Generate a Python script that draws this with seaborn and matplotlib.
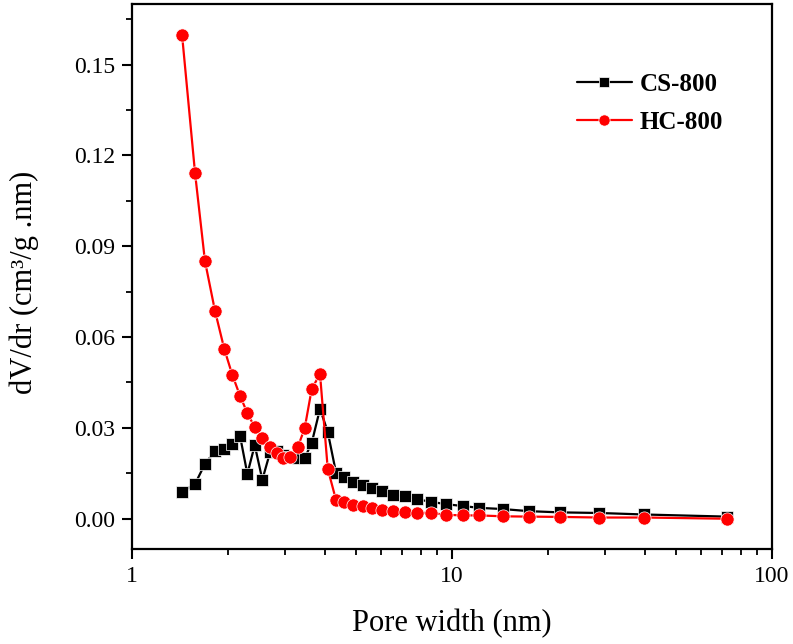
import numpy as np
import pandas as pd
import matplotlib
matplotlib.use("Agg")
import matplotlib.pyplot as plt
import seaborn as sns
from matplotlib.ticker import MultipleLocator, FormatStrFormatter, FixedLocator, FixedFormatter, LogLocator, NullFormatter

# pore width (nm), shared by both samples
pore_width = [1.433, 1.574, 1.69, 1.817, 1.943, 2.058, 2.175, 2.293, 2.418, 2.554,
              2.70, 2.833, 2.958, 3.117, 3.295, 3.464, 3.645, 3.868, 4.089, 4.340,
              4.608, 4.916, 5.26, 5.636, 6.057, 6.555, 7.114, 7.792, 8.60, 9.58,
              10.8, 12.14, 14.4, 17.4, 21.75, 28.8, 39.9, 72.2]

cs800 = [0.0088, 0.0115, 0.0181, 0.0223, 0.0230, 0.0247, 0.0274, 0.0148, 0.0243, 0.0129,
         0.0219, 0.0224, 0.0211, 0.0204, 0.0200, 0.0200, 0.0251, 0.0363, 0.0287, 0.0152,
         0.0137, 0.0121, 0.0113, 0.0101, 0.0090, 0.0080, 0.0074, 0.0064, 0.0056, 0.0048,
         0.0042, 0.0036, 0.0032, 0.0025, 0.0021, 0.0019, 0.0014, 0.0007]

hc800 = [0.1599, 0.1141, 0.0851, 0.0686, 0.0560, 0.0475, 0.0406, 0.0349, 0.0302, 0.0268,
         0.0238, 0.0217, 0.0200, 0.0205, 0.0236, 0.0299, 0.0429, 0.0478, 0.0165, 0.0062,
         0.0054, 0.0047, 0.0041, 0.0034, 0.0030, 0.0027, 0.0023, 0.0020, 0.0019, 0.0013,
         0.0011, 0.0011, 0.0008, 0.0007, 0.0006, 0.0004, 0.0004, 0.0000]

sns.set_style("ticks", {"axes.edgecolor": "black", "text.color": "black",
                        "xtick.color": "black", "ytick.color": "black",
                        "axes.labelcolor": "black"})
plt.rcParams['font.family'] = ['Liberation Serif', 'DejaVu Serif']

df = pd.DataFrame({"w": pore_width, "CS-800": cs800, "HC-800": hc800})

fig = plt.figure(figsize=(7.93, 6.44), dpi=100)
ax = fig.add_axes([0.1665, 0.1475, 0.807, 0.8463])

sns.lineplot(data=df, x="w", y="CS-800", ax=ax, color="black", marker="s", markersize=8,
             markeredgecolor="white", markeredgewidth=0.5, linewidth=1.6, label="CS-800", zorder=2)
sns.lineplot(data=df, x="w", y="HC-800", ax=ax, color="#ff0000", marker="o", markersize=9.5,
             markeredgecolor="white", markeredgewidth=0.5, linewidth=1.6, label="HC-800", zorder=3)

ax.set_xscale("log")
ax.set_xlim(1, 100)
ax.set_ylim(-0.01, 0.17)

ax.xaxis.set_major_locator(FixedLocator([1, 10, 100]))
ax.xaxis.set_major_formatter(FixedFormatter(["1", "10", "100"]))
ax.xaxis.set_minor_locator(LogLocator(base=10, subs=np.arange(2, 10)))
ax.xaxis.set_minor_formatter(NullFormatter())

ax.yaxis.set_major_locator(MultipleLocator(0.03))
ax.yaxis.set_minor_locator(MultipleLocator(0.015))
ax.yaxis.set_major_formatter(FormatStrFormatter("%.2f"))

ax.tick_params(which="major", direction="out", length=7, width=1.5, labelsize=17, pad=5)
ax.tick_params(which="minor", direction="out", length=4, width=1.3)
ax.tick_params(top=False, right=False, which="both")
for s in ax.spines.values():
    s.set_linewidth(1.6)
    s.set_visible(True)

ax.set_xlabel("Pore width (nm)", fontsize=22)
ax.set_ylabel("dV/dr (cm³/g .nm)", fontsize=22)
ax.xaxis.set_label_coords(0.5, -0.11)
ax.yaxis.set_label_coords(-0.145, 0.49)

leg = ax.legend(loc="upper left", bbox_to_anchor=(0.66, 0.915), frameon=False,
                prop={"weight": "bold", "size": 18}, handlelength=2.2, handletextpad=0.3,
                labelspacing=0.6, markerscale=0.85)

fig.savefig("out.png", dpi=100)
